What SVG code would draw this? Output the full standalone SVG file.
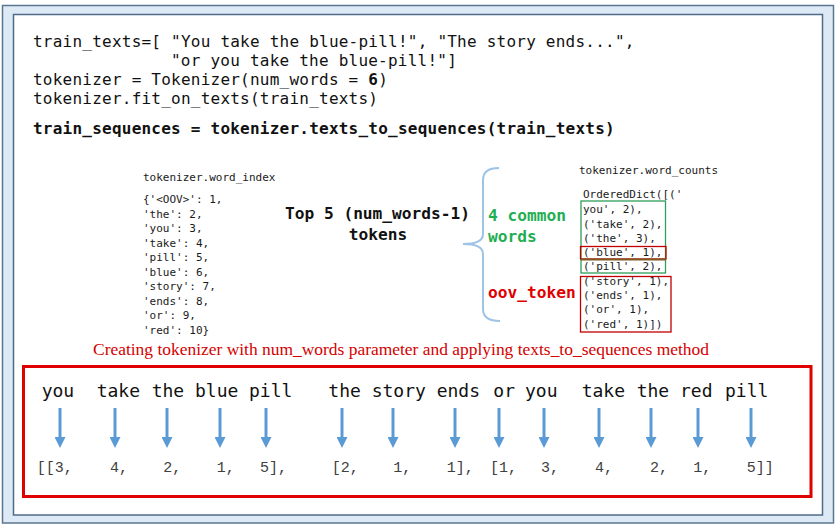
<svg xmlns="http://www.w3.org/2000/svg" width="839" height="527" viewBox="0 0 839 527">
<style>
.code{font-family:"DejaVu Sans Mono","Liberation Mono",monospace;font-size:16px;letter-spacing:0.23px;fill:#111}
.b{font-weight:bold}
.small{font-family:"DejaVu Sans Mono","Liberation Mono",monospace;font-size:11px;fill:#1a1a1a}
.lab{font-family:"DejaVu Sans Mono","Liberation Mono",monospace;font-size:16.2px;font-weight:bold}
.word{font-family:"DejaVu Sans Mono","Liberation Mono",monospace;font-size:18px;fill:#111}
.num{font-family:"Liberation Mono","Courier New",monospace;font-size:15px;fill:#404040}
.cap{font-family:"Liberation Serif","Times New Roman",serif;font-size:16px;fill:#d40000}
.arr{stroke:#5b9bd5;stroke-width:3;fill:none;marker-end:url(#ah)}
</style>
<defs>
<marker id="ah" markerUnits="userSpaceOnUse" markerWidth="11" markerHeight="11" refX="0" refY="5.5" orient="auto">
<path d="M0,0 L11,5.5 L0,11 z" fill="#5b9bd5"/>
</marker>
</defs>
<g id="frame">
<rect x="2.5" y="5.5" width="831" height="517.5" fill="#dde9f5" stroke="#5b7693" stroke-width="1.5"/>
<rect x="13.5" y="14.5" width="809" height="500.5" fill="#ffffff" stroke="#4f6b89" stroke-width="1.5"/>
</g>
<g id="code">
<text class="code" x="33" y="46.5">train_texts=[ "You take the blue-pill!", "The story ends...",</text>
<text class="code" x="171" y="65.5">"or you take the blue-pill!"]</text>
<text class="code" x="33" y="85">tokenizer = Tokenizer(num_words = <tspan class="b">6</tspan>)</text>
<text class="code" x="33" y="104">tokenizer.fit_on_texts(train_texts)</text>
<text class="code b" x="33" y="134">train_sequences = tokenizer.texts_to_sequences(train_texts)</text>
</g>
<g id="word_index">
<text class="small" x="143" y="181">tokenizer.word_index</text>
<text class="small" x="143" y="203">{'&lt;OOV&gt;': 1,</text>
<text class="small" x="143" y="217.5">'the': 2,</text>
<text class="small" x="143" y="232">'you': 3,</text>
<text class="small" x="143" y="246.5">'take': 4,</text>
<text class="small" x="143" y="261">'pill': 5,</text>
<text class="small" x="143" y="275.5">'blue': 6,</text>
<text class="small" x="143" y="290">'story': 7,</text>
<text class="small" x="143" y="304.5">'ends': 8,</text>
<text class="small" x="143" y="319">'or': 9,</text>
<text class="small" x="143" y="333.5">'red': 10}</text>
</g>
<g id="top5">
<text class="lab" x="377.5" y="219" text-anchor="middle" fill="#111">Top 5 (num_words-1)</text>
<text class="lab" x="378" y="240" text-anchor="middle" fill="#111">tokens</text>
</g>
<g id="brace">
<path d="M499,168 Q483,168 483,180 L483,234 Q483,244 463,244 Q483,244 483,254 L483,309 Q483,321 500,321" fill="none" stroke="#9dc3e6" stroke-width="2"/>
</g>
<g id="common">
<text class="lab" x="488" y="221" fill="#1fae52">4 common</text>
<text class="lab" x="488" y="242" fill="#1fae52">words</text>
</g>
<g id="oov">
<text class="lab" x="488" y="298" fill="#e00000">oov_token</text>
</g>
<g id="word_counts">
<text class="small" x="579" y="174">tokenizer.word_counts</text>
<text class="small" x="583" y="198">OrderedDict([('</text>
<text class="small" x="583" y="213">you', 2),</text>
<text class="small" x="583" y="228">('take', 2),</text>
<text class="small" x="583" y="242">('the', 3),</text>
<text class="small" x="583" y="256">('blue', 1),</text>
<text class="small" x="583" y="270">('pill', 2),</text>
<text class="small" x="583" y="285">('story', 1),</text>
<text class="small" x="583" y="299">('ends', 1),</text>
<text class="small" x="583" y="313">('or', 1),</text>
<text class="small" x="583" y="328">('red', 1)])</text>
<rect x="581" y="201" width="84.5" height="72" fill="none" stroke="#2e9e5a" stroke-width="1.3"/>
<rect x="580.5" y="246.5" width="85.5" height="12.5" fill="none" stroke="#c00000" stroke-width="1.3"/>
<line x1="581" y1="259.5" x2="666" y2="259.5" stroke="#7f5a24" stroke-width="2"/>
<rect x="580.5" y="276.5" width="90.5" height="55.5" fill="none" stroke="#c00000" stroke-width="1.3"/>
</g>
<g id="caption">
<text class="cap" x="93" y="355" textLength="616" lengthAdjust="spacingAndGlyphs">Creating tokenizer with num_words parameter and applying texts_to_sequences method</text>
</g>
<g id="sequence_box">
<rect x="23.5" y="366.5" width="787.5" height="130" fill="none" stroke="#e00000" stroke-width="3"/>
</g>
<g id="words">
<text class="word" x="41.7" y="397">you</text>
<text class="word" x="96.7" y="397">take</text>
<text class="word" x="151.7" y="397">the</text>
<text class="word" x="195" y="397">blue</text>
<text class="word" x="249" y="397">pill</text>
<text class="word" x="328.3" y="397">the</text>
<text class="word" x="371.7" y="397">story</text>
<text class="word" x="436.7" y="397">ends</text>
<text class="word" x="493.3" y="397">or</text>
<text class="word" x="525" y="397">you</text>
<text class="word" x="581.7" y="397">take</text>
<text class="word" x="636.7" y="397">the</text>
<text class="word" x="680" y="397">red</text>
<text class="word" x="725" y="397">pill</text>
</g>
<g id="connectors">
<line class="arr" x1="60" y1="408" x2="60" y2="437"/>
<line class="arr" x1="115" y1="408" x2="115" y2="437"/>
<line class="arr" x1="167" y1="408" x2="167" y2="437"/>
<line class="arr" x1="220" y1="408" x2="220" y2="437"/>
<line class="arr" x1="266" y1="408" x2="266" y2="437"/>
<line class="arr" x1="342" y1="408" x2="342" y2="437"/>
<line class="arr" x1="393" y1="408" x2="393" y2="437"/>
<line class="arr" x1="455" y1="408" x2="455" y2="437"/>
<line class="arr" x1="499" y1="408" x2="499" y2="437"/>
<line class="arr" x1="544" y1="408" x2="544" y2="437"/>
<line class="arr" x1="599" y1="408" x2="599" y2="437"/>
<line class="arr" x1="651" y1="408" x2="651" y2="437"/>
<line class="arr" x1="698" y1="408" x2="698" y2="437"/>
<line class="arr" x1="751" y1="408" x2="751" y2="437"/>
</g>
<g id="sequences">
<text class="num" x="36.7" y="472">[[3,</text>
<text class="num" x="110" y="472">4,</text>
<text class="num" x="163.3" y="472">2,</text>
<text class="num" x="216.7" y="472">1,</text>
<text class="num" x="260" y="472">5],</text>
<text class="num" x="331.7" y="472">[2,</text>
<text class="num" x="393.3" y="472">1,</text>
<text class="num" x="446.7" y="472">1],</text>
<text class="num" x="490" y="472">[1,</text>
<text class="num" x="541" y="472">3,</text>
<text class="num" x="595" y="472">4,</text>
<text class="num" x="650" y="472">2,</text>
<text class="num" x="693.3" y="472">1,</text>
<text class="num" x="746.7" y="472">5]]</text>
</g>
</svg>
